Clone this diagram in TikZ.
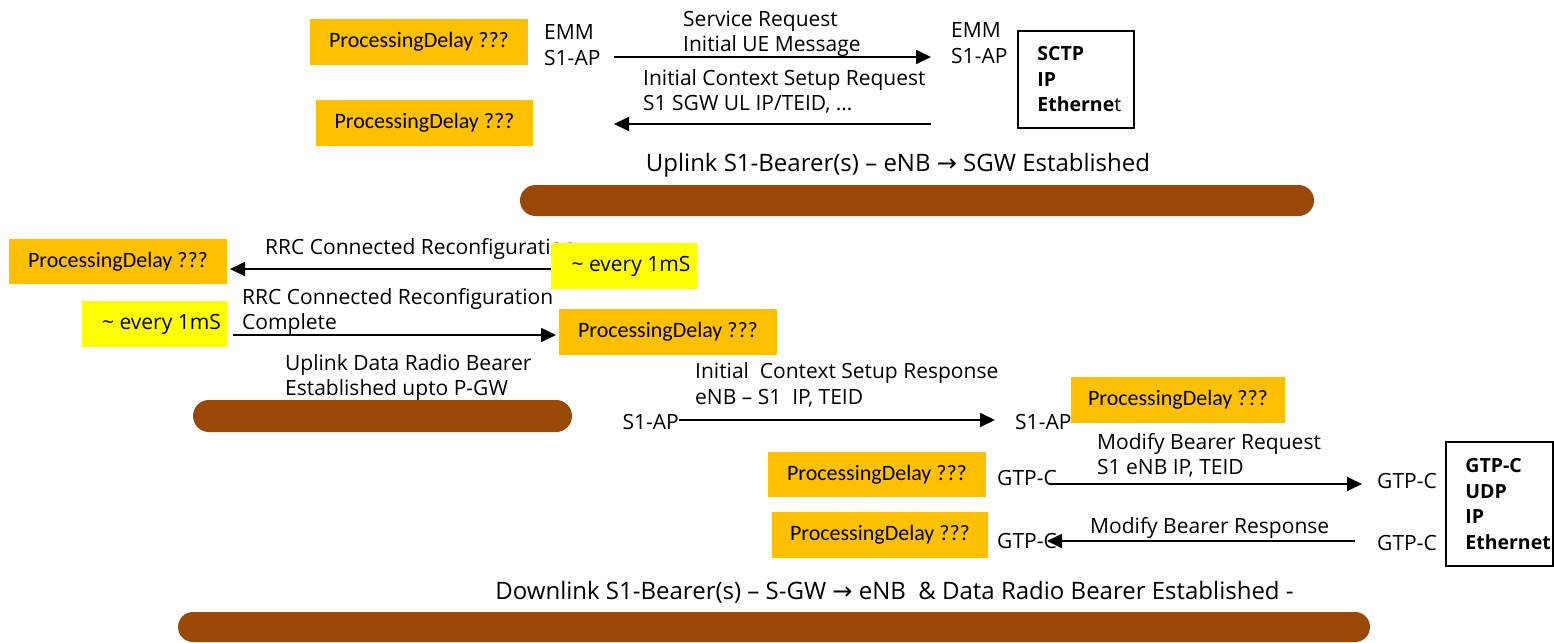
\documentclass[tikz,border=0pt]{standalone}
\usepackage{fontspec}
\usepackage{xcolor}
\usepackage{tikz}
\usetikzlibrary{arrows.meta,calc}
\newfontfamily\lblfont[Ligatures=TeX]{Open Sans}
\newfontfamily\pdfont{Carlito}
\newfontfamily\symfont{DejaVu Sans}
\definecolor{pdorange}{RGB}{255,192,0}
\definecolor{tickyellow}{RGB}{255,255,0}
\definecolor{bearerbrown}{RGB}{153,73,5}
\newcommand{\rarr}{{\symfont\char"2192}}
\tikzset{
  pd/.style={fill=pdorange, inner sep=0, minimum width=218, minimum height=46,
    font=\pdfont\fontsize{22}{25}\selectfont},
  tick/.style={fill=tickyellow, inner sep=0, minimum width=146, minimum height=46,
    font=\lblfont\fontsize{21}{25}\selectfont},
  lbl/.style={anchor=west, align=left, inner sep=0, yshift=-2,
    font=\lblfont\fontsize{21}{25.5}\selectfont},
  big/.style={inner sep=0, yshift=-2.5, font=\lblfont\fontsize{24}{28}\selectfont},
  stackbox/.style={draw, line width=1.6pt, inner sep=0},
  stacktext/.style={anchor=west, align=left, inner sep=0,
    font=\lblfont\bfseries\fontsize{19.5}{25.5}\selectfont},
  bearer/.style={fill=bearerbrown, inner sep=0},
  msg/.style={line width=1.8pt, -{Triangle[length=15pt,width=14pt]}}
}
\begin{document}
\begin{tikzpicture}[x=1pt, y=-1pt]
    \useasboundingbox (0,0) rectangle (1554,642);

    % S1-AP towards MME
    \node[pd] (pd1) at (419,42) {ProcessingDelay ???};
    \node[pd, minimum width=217] (pd2) at (424.5,123) {ProcessingDelay ???};
    \node[lbl] (emm1) at (544,43) {EMM\\S1-AP};
    \node[lbl] (emm2) at (951,41) {EMM\\S1-AP};
    \node[lbl] (srq) at (683,32) {Service Request\\Initial UE Message};
    \node[lbl] (icsrq) at (643,89.5) {Initial Context Setup Request\\S1 SGW UL IP/TEID, \dots};
    \node[stackbox, minimum width=116, minimum height=97] (sctp) at (1076,79.5) {};
    \node[stacktext] (sctptxt) at ([xshift=20]sctp.west) {SCTP\\IP\\Etherne{\mdseries t}};

    \coordinate (a1s) at (614,57);
    \coordinate (a1e) at (931,57);
    \coordinate (a2s) at (931,124);
    \coordinate (a2e) at (614,124);
    \draw[msg] (a1s) -- (a1e);
    \draw[msg] (a2s) -- (a2e);

    \node[big] (ulbearer) at (898,163) {Uplink S1-Bearer(s) – eNB \rarr{} SGW Established};
    \node[bearer, minimum width=794, minimum height=31, rounded corners=15.5] (bar1) at (917,200.5) {};

    % RRC
    \node[pd, minimum height=45] (pd3) at (118,261.5) {ProcessingDelay ???};
    \node[lbl] (rrc1) at (265,247) {RRC Connected Reconfiguration};
    \node[tick] (tick1) at (624,266) {\hspace{14pt}\textasciitilde{} every 1mS};
    \node[lbl] (rrc2) at (242,309.5) {RRC Connected Reconfiguration\\Complete};
    \node[tick, minimum width=145] (tick2) at (154.5,324) {\hspace{14pt}\textasciitilde{} every 1mS};
    \node[pd] (pd4) at (668,332) {ProcessingDelay ???};

    \coordinate (a3e) at (230,269);
    \coordinate (a4s) at (233,335);
    \coordinate (a4e) at (556,335);
    \draw[msg] (tick1.west |- a3e) -- (a3e);
    \draw[msg] (a4s) -- (a4e);

    \node[lbl] (uldrb) at (285,375.5) {Uplink Data Radio Bearer\\Established upto P-GW};
    \node[bearer, minimum width=379, minimum height=32, rounded corners=16] (bar2) at (382.5,416) {};

    % S1-AP response
    \node[lbl, anchor=east] (s1ap1) at (679,420) {S1-AP};
    \node[lbl] (s1ap2) at (1015,420) {S1-AP};
    \node[lbl] (icsrsp) at (695,383) {Initial\ \ Context Setup Response\\eNB – S1\ \ IP, TEID};
    \node[pd, minimum width=214] (pd5) at (1178,400) {ProcessingDelay ???};
    \draw[msg] ([yshift=2]s1ap1.east) -- ([xshift=-20,yshift=2]s1ap2.west);

    % GTP-C towards S-GW
    \node[lbl] (mbrq) at (1097,453.5) {Modify Bearer Request\\S1 eNB IP, TEID};
    \node[pd, minimum height=45] (pd6) at (877,474.5) {ProcessingDelay ???};
    \node[pd, minimum width=216] (pd7) at (880,535) {ProcessingDelay ???};
    \node[lbl] (gtp1) at (997,476) {GTP-C};
    \node[lbl] (gtp2) at (1377,479) {GTP-C};
    \node[lbl] (gtp3) at (997,539) {GTP-C};
    \node[lbl] (gtp4) at (1377,541) {GTP-C};
    \node[lbl] (mbrsp) at (1090,526) {Modify Bearer Response};
    \node[stackbox, minimum width=107, minimum height=124] (gtpst) at (1499.5,504) {};
    \node[stacktext] (gtpsttxt) at ([xshift=20]gtpst.west) {GTP-C\\UDP\\IP\\Ethernet};

    \coordinate (a5s) at (1050,484);
    \coordinate (a5e) at (1362,484);
    \coordinate (a6s) at (1355,541);
    \coordinate (a6e) at (1047,541);
    \draw[msg] (a5s) -- (a5e);
    \draw[msg] (a6s) -- (a6e);

    \node[big] (dlbearer) at (894.5,590) {Downlink S1-Bearer(s) – S-GW \rarr{} eNB\ \ \& Data Radio Bearer Established -};
    \node[bearer, minimum width=1192, minimum height=30, rounded corners=15] (bar3) at (774,627) {};
  \end{tikzpicture}
\end{document}
